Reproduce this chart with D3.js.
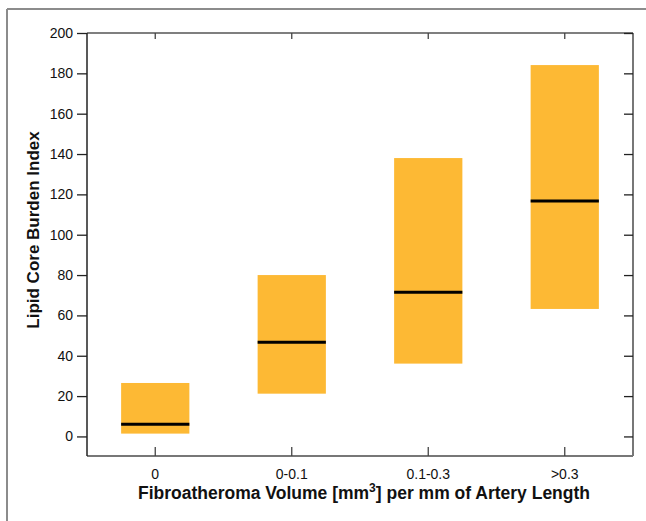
<!DOCTYPE html>
<html>
<head>
<meta charset="utf-8">
<script src="https://cdnjs.cloudflare.com/ajax/libs/d3/7.8.5/d3.min.js"></script>
<style>
  body { margin: 0; background: #fff; }
  text { font-family: "Liberation Sans", Arial, sans-serif; }
</style>
</head>
<body>
<script>
// data
var categories = ["0", "0-0.1", "0.1-0.3", ">0.3"];
var lowValues = [1.4, 21.2, 36.1, 63.2];
var highValues = [26.5, 80.0, 138.0, 184.1];
var medianValues = [6.0, 46.7, 71.5, 116.7];
var yTicks = [0, 20, 40, 60, 80, 100, 120, 140, 160, 180, 200];

var W = 646, H = 521;
var margin = {top: 33, right: 13, bottom: 65, left: 87},
    width = W - margin.left - margin.right,
    height = H - margin.top - margin.bottom;

var svg = d3.select("body").append("svg")
    .attr("width", W)
    .attr("height", H);

// frame lines of the figure (top and left only)
svg.append("line").attr("x1", 7).attr("x2", W).attr("y1", 9).attr("y2", 9)
    .attr("stroke", "#8c8c8c").attr("stroke-width", 2);
svg.append("line").attr("x1", 7).attr("x2", 7).attr("y1", 9).attr("y2", H)
    .attr("stroke", "#8c8c8c").attr("stroke-width", 2);

var g = svg.append("g")
    .attr("transform", "translate(" + margin.left + "," + margin.top + ")");

// scales
var x = d3.scaleBand()
    .domain(categories)
    .range([0, width])
    .paddingInner(0.5)
    .paddingOuter(0.25);

var y = d3.scaleLinear()
    .domain([-9.7, 200])
    .range([height, 0]);

// bars (interquartile boxes)
g.selectAll(".bar")
    .data(categories)
    .enter().append("rect")
    .attr("class", "bar")
    .attr("x", function(d) { return x(d); })
    .attr("width", x.bandwidth())
    .attr("y", function(d, i) { return y(highValues[i]); })
    .attr("height", function(d, i) { return y(lowValues[i]) - y(highValues[i]); })
    .attr("fill", "#fdb934");

// median lines
g.selectAll(".median")
    .data(categories)
    .enter().append("line")
    .attr("class", "median")
    .attr("x1", function(d) { return x(d); })
    .attr("x2", function(d) { return x(d) + x.bandwidth(); })
    .attr("y1", function(d, i) { return y(medianValues[i]); })
    .attr("y2", function(d, i) { return y(medianValues[i]); })
    .attr("stroke", "#000")
    .attr("stroke-width", 3);

// plot box
g.append("line").attr("x1", 0).attr("x2", width).attr("y1", 0).attr("y2", 0)
    .attr("stroke", "#555").attr("stroke-width", 1.5);
g.append("line").attr("x1", width).attr("x2", width).attr("y1", 0).attr("y2", height)
    .attr("stroke", "#777").attr("stroke-width", 2);
g.append("line").attr("x1", 0).attr("x2", width).attr("y1", height).attr("y2", height)
    .attr("stroke", "#777").attr("stroke-width", 2);
g.append("line").attr("x1", 0).attr("x2", 0).attr("y1", 0).attr("y2", height)
    .attr("stroke", "#222").attr("stroke-width", 1.5);

// left axis
var yAxis = d3.axisLeft(y).tickValues(yTicks).tickSize(10).tickPadding(4);
var ya = g.append("g").call(yAxis);
ya.select(".domain").remove();
ya.selectAll(".tick line").attr("stroke", "#222").attr("stroke-width", 1.3);
ya.selectAll(".tick text").attr("font-size", "14px").attr("fill", "#111");

// right axis (inward ticks)
var yAxisR = d3.axisRight(y).tickValues(yTicks).tickSize(-9).tickFormat("");
var yr = g.append("g").attr("transform", "translate(" + width + ",0)").call(yAxisR);
yr.select(".domain").remove();
yr.selectAll(".tick line").attr("stroke", "#222").attr("stroke-width", 1.3);

// bottom axis (inward ticks)
var xAxis = d3.axisBottom(x).tickSize(-9).tickPadding(13);
var xa = g.append("g").attr("transform", "translate(0," + height + ")").call(xAxis);
xa.select(".domain").remove();
xa.selectAll(".tick line").attr("stroke", "#444").attr("stroke-width", 1.3);
xa.selectAll(".tick text").attr("font-size", "14px").attr("fill", "#111");

// top axis (inward ticks)
var xAxisT = d3.axisTop(x).tickSize(-6).tickFormat("");
var xt = g.append("g").call(xAxisT);
xt.select(".domain").remove();
xt.selectAll(".tick line").attr("stroke", "#444").attr("stroke-width", 1.3);

// axis titles
svg.append("text")
    .attr("transform", "translate(39,230) rotate(-90)")
    .attr("text-anchor", "middle")
    .attr("font-size", "17px")
    .attr("font-weight", "bold")
    .attr("fill", "#111")
    .text("Lipid Core Burden Index");

var xt2 = svg.append("text")
    .attr("x", 364)
    .attr("y", 499)
    .attr("text-anchor", "middle")
    .attr("font-size", "17.5px")
    .attr("font-weight", "bold")
    .attr("fill", "#111");
xt2.append("tspan").text("Fibroatheroma Volume [mm");
xt2.append("tspan").attr("dy", -7).attr("font-size", "12px").text("3");
xt2.append("tspan").attr("dy", 7).text("] per mm of Artery Length");
</script>
</body>
</html>
